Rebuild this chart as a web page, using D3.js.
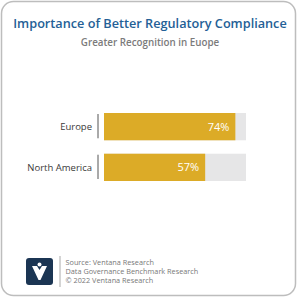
<!DOCTYPE html>
<html>
<head>
<meta charset="utf-8">
<script src="https://cdn.jsdelivr.net/npm/d3@7"></script>
<style>
  body { margin: 0; background: #fff; }
  svg { display: block; font-family: "Open Sans", "Noto Sans", sans-serif; }
</style>
</head>
<body>
<svg id="chart"></svg>
<script>
// data
const regions = ["Europe", "North America"]
const shares = [74, 57]
const scaleMax = 80
const sourceLines = ["Source: Ventana Research", "Data Governance Benchmark Research", "\u00A9 2022 Ventana Research"]

const svgWidth = 300
const svgHeight = 300
const margin = { left: 104, right: 54, top: 113, bottom: 119 }
const chartWidth = svgWidth - margin.left - margin.right
const chartHeight = svgHeight - margin.top - margin.bottom

const svg = d3.select("#chart")
    .attr("width", svgWidth)
    .attr("height", svgHeight)

// frame
svg.append("rect")
    .attr("x", 1.5).attr("y", 1.5)
    .attr("width", 294).attr("height", 294)
    .attr("rx", 12)
    .attr("fill", "#fff")
    .attr("stroke", "#bdbdbd")
    .attr("stroke-width", 1.5)

// titles
svg.append("text")
    .attr("x", 150).attr("y", 28)
    .attr("text-anchor", "middle")
    .style("font-size", "12.7px")
    .style("font-weight", 600)
    .style("fill", "#246096")
    .text("Importance of Better Regulatory Compliance")

svg.append("text")
    .attr("x", 150).attr("y", 46)
    .attr("text-anchor", "middle")
    .style("font-size", "9.8px")
    .style("font-weight", 600)
    .style("fill", "#7b7b7b")
    .text("Greater Recognition in Euope")

const data = regions.map((r, i) => ({ region: r, value: shares[i] }))

const x = d3.scaleLinear()
    .domain([0, scaleMax])
    .range([0, chartWidth])

const y = d3.scaleBand()
    .domain(regions)
    .range([0, chartHeight])
    .paddingInner(0.33)

const g = svg.append("g")
    .attr("transform", `translate(${margin.left}, ${margin.top})`)

// background bars
g.selectAll(".bg")
    .data(data)
    .enter()
    .append("rect")
    .attr("class", "bg")
    .attr("x", 0)
    .attr("y", d => y(d.region))
    .attr("width", x(scaleMax))
    .attr("height", y.bandwidth())
    .attr("fill", "#e6e6e7")

g.selectAll(".bar")
    .data(data)
    .enter()
    .append("rect")
    .attr("class", "bar")
    .attr("x", 0)
    .attr("y", d => y(d.region))
    .attr("width", d => x(d.value))
    .attr("height", y.bandwidth())
    .attr("fill", "#dcab27")

g.selectAll(".val")
    .data(data)
    .enter()
    .append("text")
    .attr("class", "val")
    .attr("x", d => x(d.value) - 6)
    .attr("y", d => y(d.region) + y.bandwidth() / 2)
    .attr("dy", "0.36em")
    .attr("text-anchor", "end")
    .style("font-size", "11px")
    .style("fill", "#fff")
    .text(d => d.value + "%")

// category axis: a short tick line per band
g.selectAll(".tick-line")
    .data(data)
    .enter()
    .append("line")
    .attr("x1", -6).attr("x2", -6)
    .attr("y1", d => y(d.region) + 1)
    .attr("y2", d => y(d.region) + y.bandwidth() - 2)
    .attr("stroke", "#555")
    .attr("stroke-width", 1)

g.selectAll(".cat")
    .data(data)
    .enter()
    .append("text")
    .attr("class", "cat")
    .attr("x", -12)
    .attr("y", d => y(d.region) + y.bandwidth() / 2)
    .attr("dy", "0.36em")
    .attr("text-anchor", "end")
    .style("font-size", "9.5px")
    .style("fill", "#3a3a3a")
    .text(d => d.region)

// footer logo
const logo = svg.append("g").attr("transform", "translate(26, 258)")
logo.append("rect")
    .attr("width", 27).attr("height", 27)
    .attr("rx", 3)
    .attr("fill", "#1b3553")
logo.append("path")
    .attr("d", "M6,8 L11,8 L13.5,12 L16,8 L21,8 L14.5,22 L12.5,22 Z")
    .attr("fill", "#fff")
logo.append("circle")
    .attr("cx", 13.5).attr("cy", 6.5).attr("r", 2)
    .attr("fill", "#fff")

svg.append("line")
    .attr("x1", 60).attr("x2", 60)
    .attr("y1", 256).attr("y2", 287)
    .attr("stroke", "#aaa")
    .attr("stroke-width", 1)

svg.append("g")
    .selectAll("text")
    .data(sourceLines)
    .enter()
    .append("text")
    .attr("x", 65.5)
    .attr("y", (d, i) => 265 + i * 9.2)
    .style("font-size", "7.3px")
    .style("fill", "#777")
    .text(d => d)
</script>
</body>
</html>
